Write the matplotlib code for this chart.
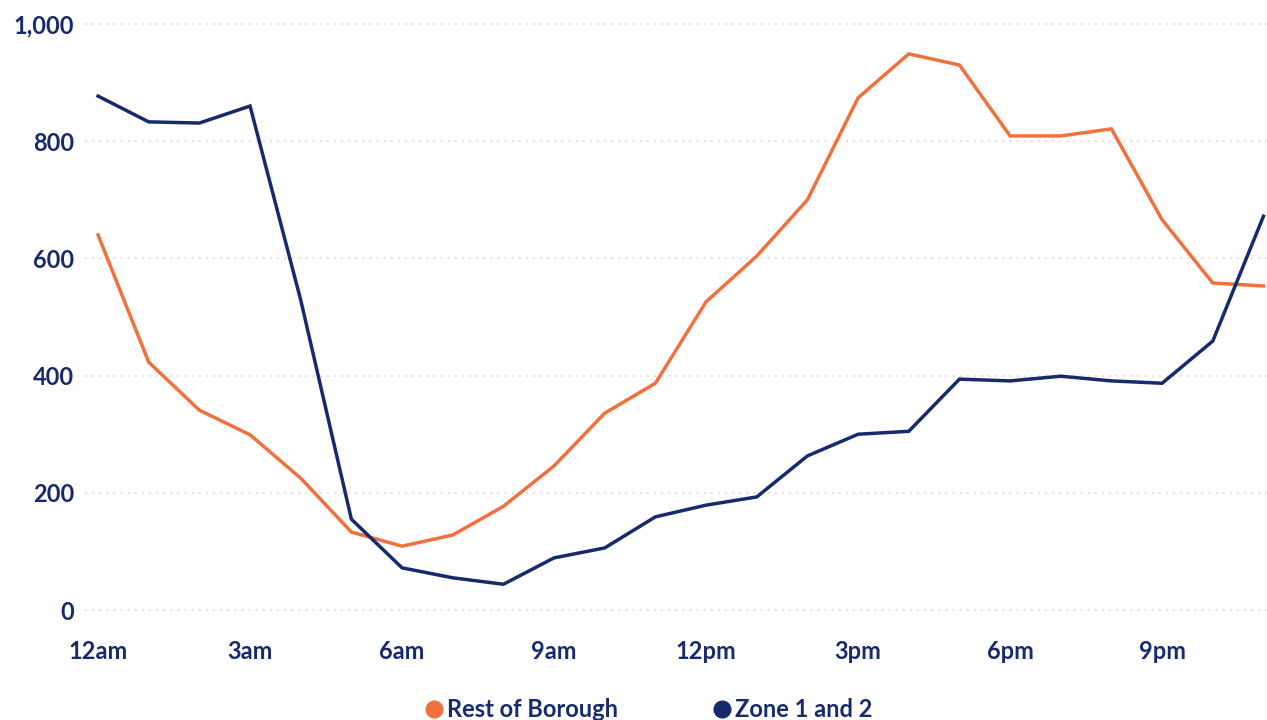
import matplotlib.pyplot as plt
from matplotlib.lines import Line2D

plt.rcParams['font.family'] = ['Lato', 'DejaVu Sans']

# hourly counts, 12am .. 11pm
hours = list(range(24))
rest_of_borough = [640, 423, 341, 299, 225, 133, 109, 128, 177, 246, 336, 387,
                   526, 604, 700, 874, 949, 930, 809, 809, 821, 666, 558, 553]
zone_1_and_2 = [877, 833, 831, 860, 529, 155, 72, 55, 44, 89, 106, 159,
                179, 193, 263, 300, 305, 394, 391, 399, 391, 387, 459, 672]

tick_hours = [0, 3, 6, 9, 12, 15, 18, 21]
tick_labels = ['12am', '3am', '6am', '9am', '12pm', '3pm', '6pm', '9pm']
y_ticks = [0, 200, 400, 600, 800, 1000]
y_labels = ['0', '200', '400', '600', '800', '1,000']

navy = '#182a6e'
orange = '#f0703e'

fig = plt.figure(figsize=(12.67, 7.2), dpi=100)
ax = fig.add_axes([0.0671, 0.1458, 0.9329, 0.8264])

ax.plot(hours, rest_of_borough, color=orange, lw=2.5, solid_joinstyle='miter', zorder=3)
ax.plot(hours, zone_1_and_2, color=navy, lw=2.5, solid_joinstyle='miter', zorder=3)

ax.set_xlim(-0.257, 23.07)
ax.set_ylim(-8.5, 1006.8)

ax.set_yticks(y_ticks)
ax.set_yticklabels(y_labels)
ax.set_xticks(tick_hours)
ax.set_xticklabels(tick_labels)

ax.tick_params(axis='both', length=0, labelsize=17, labelcolor=navy)
ax.tick_params(axis='y', pad=8)
ax.tick_params(axis='x', pad=18)
for lbl in ax.get_xticklabels() + ax.get_yticklabels():
    lbl.set_fontweight('bold')

ax.grid(axis='y', color='#e2e2e2', lw=1.6, linestyle=(0, (1, 2.2)))
ax.set_axisbelow(True)
for s in ax.spines.values():
    s.set_visible(False)

handles = [Line2D([], [], marker='o', ls='none', color=orange, markersize=12),
           Line2D([], [], marker='o', ls='none', color=navy, markersize=12)]
fig.legend(handles, ['Rest of Borough', 'Zone 1 and 2'], loc='lower center',
           bbox_to_anchor=(0.506, -0.031), ncol=2, frameon=False, handletextpad=-0.45,
           columnspacing=3.4, prop={'size': 17, 'weight': 'bold'},
           labelcolor=navy)

fig.savefig('out.png', dpi=100)
